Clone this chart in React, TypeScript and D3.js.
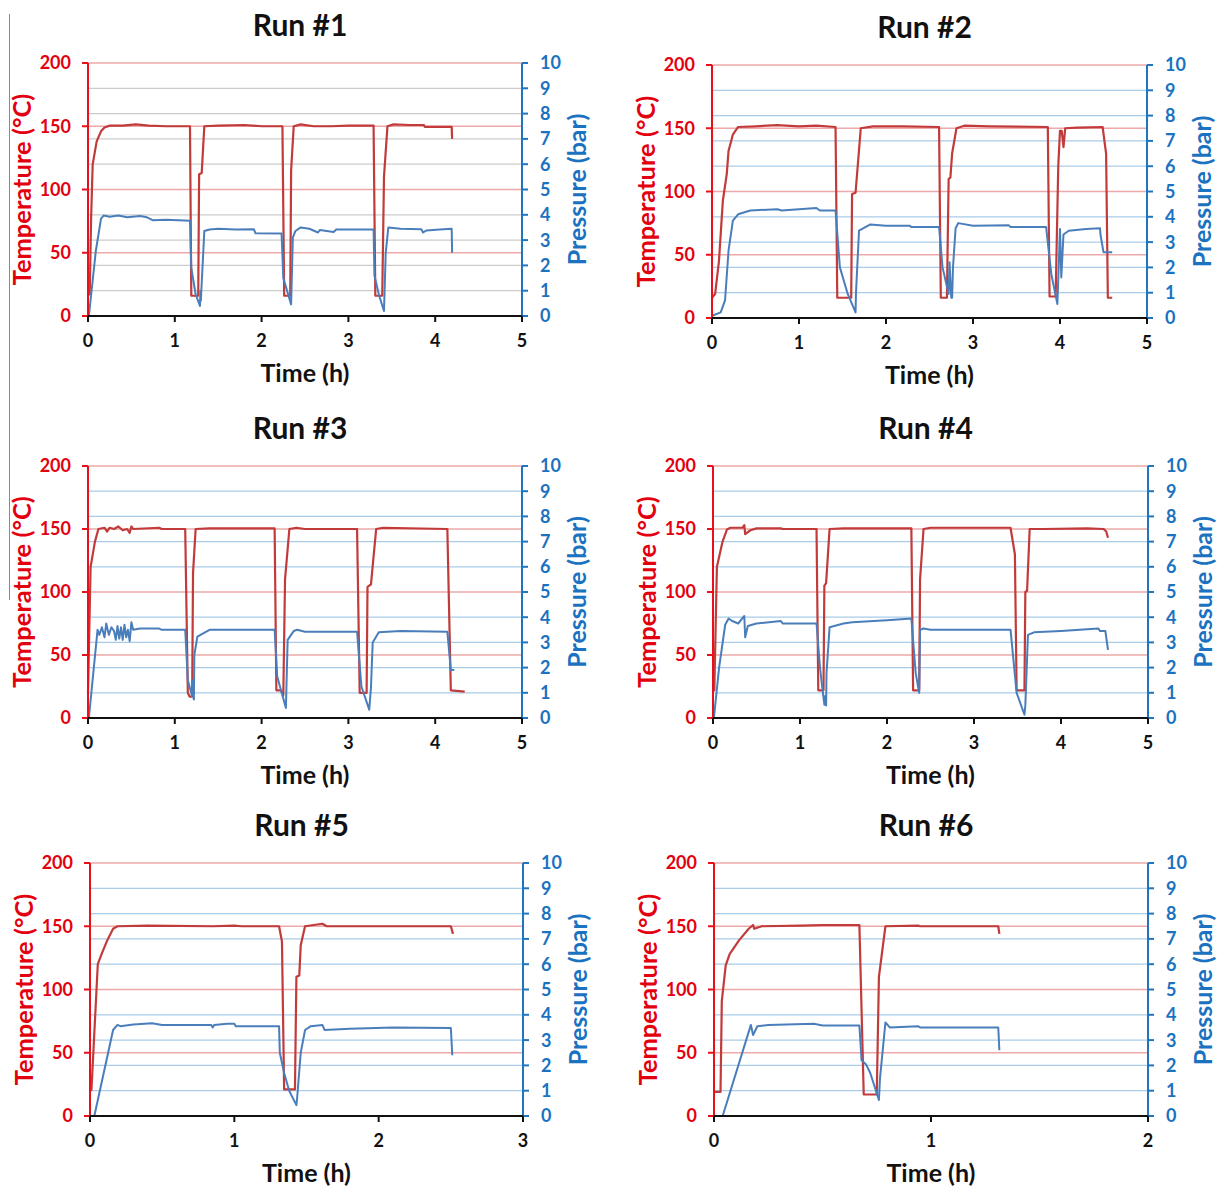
import React from "react";
import * as d3 from "d3";

// ---------- DATA ----------
const runTitles = ["Run #1", "Run #2", "Run #3", "Run #4", "Run #5", "Run #6"];
const timeMax = [5, 5, 5, 5, 3, 2];
const tempTicks = [0, 50, 100, 150, 200];
const presTicks = [0, 1, 2, 3, 4, 5, 6, 7, 8, 9, 10];

type Pt = [number, number];

const run1Temp: Pt[] = [[0,17],[0.02,17],[0.036,78],[0.054,120],[0.1,138],[0.15,146],[0.19,149],[0.25,150.5],[0.4,150.5],[0.55,151.5],[0.7,150.5],[0.9,150],[1.175,150],[1.19,16],[1.27,16],[1.28,112],[1.31,113],[1.34,150],[1.5,150.5],[1.8,151],[2.0,150],[2.24,150],[2.26,16],[2.33,16],[2.34,115],[2.37,150],[2.45,151.5],[2.6,150],[2.8,150],[3.0,150.5],[3.29,150.5],[3.31,16],[3.39,16],[3.41,110],[3.45,150],[3.52,151.5],[3.7,151],[3.87,151],[3.88,149.5],[4.19,149.5],[4.195,140]];
const run1Pres: Pt[] = [[0.01,0],[0.09,2.57],[0.15,3.85],[0.18,3.97],[0.25,3.92],[0.35,3.97],[0.45,3.9],[0.6,3.95],[0.68,3.9],[0.75,3.78],[0.9,3.8],[1.175,3.76],[1.19,1.9],[1.24,0.86],[1.29,0.4],[1.295,1.0],[1.3,0.6],[1.34,3.36],[1.4,3.42],[1.5,3.45],[1.7,3.42],[1.91,3.43],[1.93,3.27],[2.23,3.26],[2.25,1.5],[2.34,0.46],[2.36,3.1],[2.39,3.36],[2.45,3.5],[2.55,3.45],[2.65,3.3],[2.67,3.4],[2.83,3.32],[2.86,3.42],[3.29,3.42],[3.3,1.6],[3.35,0.86],[3.41,0.2],[3.43,2.5],[3.46,3.5],[3.6,3.45],[3.84,3.43],[3.86,3.3],[3.9,3.38],[4.05,3.42],[4.19,3.45],[4.195,2.5]];

const run2Temp: Pt[] = [[0,16],[0.036,19],[0.08,45],[0.125,93],[0.17,114],[0.19,132],[0.24,145],[0.3,151],[0.5,151.5],[0.75,152.5],[1.0,151.5],[1.2,152],[1.42,151],[1.44,16],[1.6,16],[1.61,98],[1.65,99],[1.71,150],[1.85,151.5],[2.2,151.5],[2.61,151],[2.63,16],[2.7,16],[2.72,110],[2.74,111],[2.76,130],[2.81,150],[2.9,152],[3.2,151.5],[3.86,151],[3.88,17],[3.95,17],[3.98,120],[4.0,148],[4.02,148],[4.04,135],[4.06,150],[4.2,150.5],[4.49,151],[4.53,130],[4.55,16],[4.6,16]];
const run2Pres: Pt[] = [[0,0.09],[0.1,0.22],[0.15,0.7],[0.19,2.66],[0.24,3.85],[0.3,4.1],[0.44,4.25],[0.75,4.3],[0.8,4.25],[1.2,4.35],[1.24,4.25],[1.42,4.25],[1.47,2.0],[1.56,0.95],[1.65,0.22],[1.655,1.0],[1.69,3.45],[1.82,3.7],[2.0,3.65],[2.27,3.65],[2.29,3.6],[2.61,3.6],[2.65,2.0],[2.72,0.95],[2.73,2.2],[2.75,0.8],[2.76,0.8],[2.77,2.0],[2.8,3.55],[2.83,3.75],[3.0,3.65],[3.41,3.67],[3.43,3.6],[3.84,3.6],[3.9,1.74],[3.97,0.55],[4.0,3.52],[4.015,1.6],[4.04,3.3],[4.1,3.45],[4.3,3.52],[4.46,3.55],[4.465,3.3],[4.5,2.6],[4.6,2.6]];

const run3Temp: Pt[] = [[0,20],[0.03,120],[0.08,140],[0.12,150],[0.19,151],[0.22,148],[0.25,151],[0.3,150],[0.35,152],[0.4,149],[0.45,150],[0.48,147],[0.5,152],[0.52,150],[0.82,151],[0.85,150],[1.12,150],[1.15,20],[1.17,17],[1.2,17],[1.21,115],[1.24,150],[1.4,150.5],[2.15,150.5],[2.17,22],[2.22,22],[2.25,18],[2.27,110],[2.32,150],[2.4,151],[2.5,150],[3.1,150],[3.13,20],[3.21,20],[3.22,104],[3.26,106],[3.32,150],[3.4,151],[4.14,150],[4.18,22],[4.34,21]];
const run3Pres: Pt[] = [[0.01,0],[0.11,3.5],[0.13,3.3],[0.16,3.6],[0.19,3.2],[0.21,3.75],[0.24,3.3],[0.27,3.6],[0.3,3.45],[0.32,3.1],[0.34,3.65],[0.36,3.15],[0.38,3.6],[0.4,3.1],[0.42,3.7],[0.44,3.2],[0.46,3.5],[0.48,3.05],[0.5,3.8],[0.52,3.5],[0.6,3.55],[0.82,3.55],[0.85,3.5],[1.12,3.5],[1.15,1.5],[1.2,0.86],[1.205,1.5],[1.21,0.9],[1.22,0.73],[1.225,2.5],[1.26,3.23],[1.4,3.5],[2.15,3.5],[2.18,1.65],[2.28,0.4],[2.3,3.1],[2.37,3.45],[2.41,3.5],[2.5,3.42],[3.1,3.42],[3.15,1.25],[3.24,0.33],[3.26,1.2],[3.28,3.0],[3.35,3.4],[3.6,3.45],[4.14,3.42],[4.18,1.9],[4.22,1.9]];

const run4Temp: Pt[] = [[0,22],[0.015,22],[0.045,120],[0.11,140],[0.16,149.6],[0.2,151],[0.34,151],[0.36,153],[0.37,146],[0.43,149],[0.5,150.5],[0.78,150.5],[0.8,150],[1.19,150],[1.21,22],[1.27,22],[1.28,105],[1.3,107],[1.34,150],[1.5,150.5],[2.28,150.5],[2.3,22],[2.37,22],[2.38,110],[2.42,150],[2.5,151],[3.42,151],[3.47,130],[3.49,22],[3.58,22],[3.59,100],[3.61,101],[3.64,150],[3.8,150],[4.3,150.5],[4.49,150],[4.52,148],[4.54,143]];
const run4Pres: Pt[] = [[0.01,0],[0.07,2.0],[0.14,3.7],[0.18,3.95],[0.22,3.85],[0.29,3.75],[0.36,4.05],[0.37,3.2],[0.4,3.65],[0.5,3.75],[0.78,3.85],[0.8,3.75],[1.19,3.75],[1.23,2.0],[1.25,1.38],[1.28,0.53],[1.285,0.86],[1.3,0.5],[1.305,1.8],[1.34,3.6],[1.5,3.75],[1.6,3.8],[2.0,3.88],[2.28,3.95],[2.33,1.78],[2.37,1.0],[2.38,3.5],[2.42,3.55],[2.5,3.5],[3.42,3.5],[3.49,1.0],[3.58,0.13],[3.59,0.5],[3.62,3.3],[3.69,3.4],[4.0,3.45],[4.43,3.55],[4.45,3.45],[4.51,3.45],[4.54,2.7]];

const run5Temp: Pt[] = [[0,20.5],[0.01,20.5],[0.054,120],[0.08,128],[0.12,139],[0.16,148],[0.19,150],[0.4,150.5],[0.85,150],[1.0,150.5],[1.05,150],[1.31,150],[1.33,138],[1.345,21],[1.42,21],[1.43,110],[1.45,111],[1.46,135],[1.49,150],[1.55,151],[1.61,152],[1.64,150],[2.0,150],[2.5,150],[2.515,144]];
const run5Pres: Pt[] = [[0.03,0],[0.16,3.4],[0.19,3.6],[0.21,3.55],[0.3,3.62],[0.43,3.67],[0.5,3.6],[0.84,3.6],[0.85,3.5],[0.86,3.6],[0.95,3.65],[1.0,3.65],[1.01,3.55],[1.31,3.55],[1.315,2.5],[1.345,1.7],[1.38,1.0],[1.43,0.43],[1.435,0.7],[1.46,2.5],[1.49,3.4],[1.53,3.55],[1.61,3.6],[1.625,3.4],[1.8,3.45],[2.1,3.5],[2.5,3.48],[2.51,2.4]];

const run6Temp: Pt[] = [[0,19],[0.03,19],[0.036,91],[0.054,119],[0.072,128],[0.116,139],[0.16,148],[0.18,151],[0.185,148],[0.22,150],[0.4,150.5],[0.5,151],[0.67,151],[0.69,17],[0.75,17],[0.76,110],[0.79,150],[0.94,150.5],[0.95,150],[1.31,150],[1.315,144]];
const run6Pres: Pt[] = [[0.04,0],[0.17,3.6],[0.18,3.2],[0.2,3.55],[0.25,3.6],[0.46,3.65],[0.5,3.58],[0.67,3.58],[0.68,2.2],[0.7,2.05],[0.72,1.7],[0.76,0.63],[0.765,1.5],[0.79,3.7],[0.81,3.5],[0.94,3.55],[0.95,3.5],[1.31,3.5],[1.315,2.6]];

const tempSeries = [run1Temp, run2Temp, run3Temp, run4Temp, run5Temp, run6Temp];
const presSeries = [run1Pres, run2Pres, run3Pres, run4Pres, run5Pres, run6Pres];

// ---------- LAYOUT / STYLE ----------
const plotRects = [
  { l: 88, r: 522, t: 63, b: 316 },
  { l: 712, r: 1147, t: 65, b: 318 },
  { l: 88, r: 522, t: 466, b: 718 },
  { l: 713, r: 1148, t: 466, b: 718 },
  { l: 90, r: 523, t: 863, b: 1116 },
  { l: 714, r: 1148, t: 863, b: 1116 },
];

const FONT = "Lato, 'Open Sans', 'DejaVu Sans', sans-serif";
const C = {
  tempLine: "#c23b3b",
  presLine: "#4a7ebb",
  redGrid: "#eda9a9",
  blueGrid: "#a9cce9",
  grayGrid: "#cccccc",
  leftAxis: "#e8101a",
  rightAxis: "#1f75bf",
  tempText: "#e3000f",
  presText: "#1a72c0",
};

function Panel({ idx }: { idx: number }) {
  const rect = plotRects[idx];
  const x = d3.scaleLinear().domain([0, timeMax[idx]]).range([rect.l, rect.r]);
  const yT = d3.scaleLinear().domain([0, 200]).range([rect.b, rect.t]);
  const yP = d3.scaleLinear().domain([0, 10]).range([rect.b, rect.t]);
  const lineT = d3.line<Pt>().x((d) => x(d[0])).y((d) => yT(d[1]));
  const lineP = d3.line<Pt>().x((d) => x(d[0])).y((d) => yP(d[1]));
  const xTicks = d3.range(0, timeMax[idx] + 1);
  const cx = (rect.l + rect.r) / 2;
  const cy = (rect.t + rect.b) / 2;
  const pGridColor = idx === 0 ? C.grayGrid : C.blueGrid;

  return (
    <g>
      {presTicks
        .filter((p) => p > 0 && p !== 5 && p !== 10)
        .map((p) => (
          <line key={"pg" + p} x1={rect.l} x2={rect.r} y1={yP(p)} y2={yP(p)} stroke={pGridColor} strokeWidth={1.3} />
        ))}
      {tempTicks
        .filter((t) => t > 0)
        .map((t) => (
          <line key={"tg" + t} x1={rect.l} x2={rect.r} y1={yT(t)} y2={yT(t)} stroke={C.redGrid} strokeWidth={1.3} />
        ))}

      <path d={lineT(tempSeries[idx]) || ""} fill="none" stroke={C.tempLine} strokeWidth={2.2} strokeLinejoin="round" />
      <path d={lineP(presSeries[idx]) || ""} fill="none" stroke={C.presLine} strokeWidth={2} strokeLinejoin="round" />

      <line x1={rect.l} x2={rect.l} y1={rect.t} y2={rect.b} stroke={C.leftAxis} strokeWidth={2} />
      {tempTicks.map((t) => (
        <g key={"lt" + t}>
          <line x1={rect.l - 6} x2={rect.l} y1={yT(t)} y2={yT(t)} stroke={C.leftAxis} strokeWidth={2} />
          <text x={rect.l - 17} y={yT(t)} dy="0.36em" textAnchor="end" fontFamily={FONT} fontWeight={700} fontSize={18} fill={C.tempText}>
            {t}
          </text>
        </g>
      ))}

      <line x1={rect.r} x2={rect.r} y1={rect.t} y2={rect.b} stroke={C.rightAxis} strokeWidth={2} />
      {presTicks.map((p) => (
        <g key={"rt" + p}>
          <line x1={rect.r} x2={rect.r + 6} y1={yP(p)} y2={yP(p)} stroke={C.rightAxis} strokeWidth={2} />
          <text x={rect.r + 18} y={yP(p)} dy="0.36em" textAnchor="start" fontFamily={FONT} fontWeight={700} fontSize={18} fill={C.presText}>
            {p}
          </text>
        </g>
      ))}

      <line x1={rect.l} x2={rect.r} y1={rect.b} y2={rect.b} stroke="#111" strokeWidth={2} />
      {xTicks.map((v) => (
        <g key={"xt" + v}>
          <line x1={x(v)} x2={x(v)} y1={rect.b} y2={rect.b + 6} stroke="#111" strokeWidth={2} />
          <text x={x(v)} y={rect.b + 25} dy="0.36em" textAnchor="middle" fontFamily={FONT} fontWeight={700} fontSize={18} fill="#111">
            {v}
          </text>
        </g>
      ))}

      <text x={cx - 5} y={rect.t - 38} dy="0.36em" textAnchor="middle" fontFamily={FONT} fontWeight={700} fontSize={30} fill="#111">
        {runTitles[idx]}
      </text>
      <text x={cx} y={rect.b + 57} dy="0.36em" textAnchor="middle" fontFamily={FONT} fontWeight={700} fontSize={25} fill="#111">
        Time (h)
      </text>
      <text
        transform={`translate(${rect.l - 66},${cy}) rotate(-90)`}
        dy="0.36em"
        textAnchor="middle"
        fontFamily={FONT}
        fontWeight={700}
        fontSize={25.5}
        fill={C.tempText}
      >
        Temperature (°C)
      </text>
      <text
        transform={`translate(${rect.r + 56},${cy}) rotate(-90)`}
        dy="0.3em"
        textAnchor="middle"
        fontFamily={FONT}
        fontWeight={700}
        fontSize={25}
        fill={C.presText}
      >
        Pressure (bar)
      </text>
    </g>
  );
}

export default function App() {
  return (
    <svg
      width={1220}
      height={1187}
      viewBox="0 0 1220 1187"
      style={{ position: "absolute", left: 0, top: 0, display: "block", background: "#fff" }}
    >
      <rect x={0} y={0} width={1220} height={1187} fill="#fff" />
      <line x1={9.5} x2={9.5} y1={14} y2={600} stroke="#8a8a8a" strokeWidth={1} />
      {runTitles.map((_, i) => (
        <Panel key={i} idx={i} />
      ))}
    </svg>
  );
}
